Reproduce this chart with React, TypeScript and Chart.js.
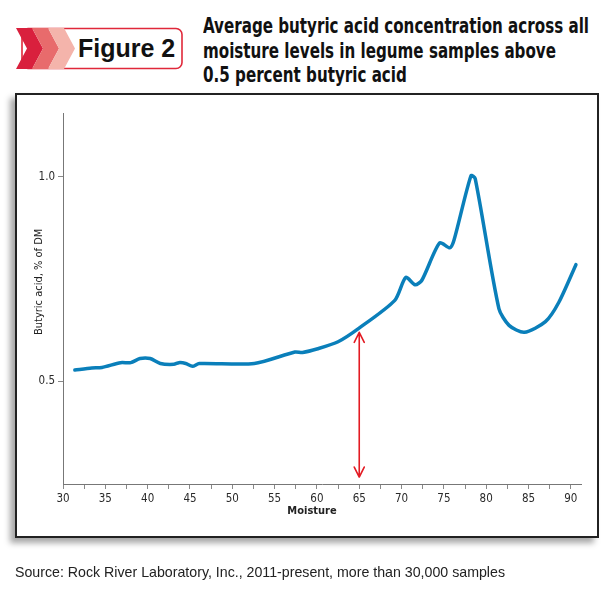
import React, { useEffect, useLayoutEffect, useRef } from "react";
import { Chart, registerables } from "chart.js";

Chart.register(...registerables);

const moisture = [31.4, 33.4, 34.6, 36.8, 38.0, 39.1, 40.3, 41.5, 43.1, 43.7, 44.5, 45.3, 46.1, 52.6, 57.4, 58.3, 60.1, 62.5, 64.9, 69.2, 70.5, 71.6, 72.4, 74.5, 75.7, 76.2, 78.2, 78.7, 81.5, 82.7, 84.5, 87.0, 88.6, 90.6];
const butyric = [0.528, 0.533, 0.534, 0.546, 0.546, 0.556, 0.556, 0.544, 0.542, 0.546, 0.544, 0.537, 0.544, 0.544, 0.572, 0.571, 0.58, 0.597, 0.629, 0.698, 0.754, 0.736, 0.747, 0.838, 0.826, 0.845, 1.002, 0.995, 0.678, 0.637, 0.62, 0.646, 0.694, 0.785];
const xTickLabels = [30, 35, 40, 45, 50, 55, 60, 65, 70, 75, 80, 85, 90];
const yTickLabels = [0.5, 1.0];
const arrowMoisture = [65];
const arrowRange = [0.62, 0.267];
const titleLines = [
  "Average butyric acid concentration across all",
  "moisture levels in legume samples above",
  "0.5 percent butyric acid",
];

const NARROW = "'Liberation Sans Narrow', 'DejaVu Sans Condensed', 'Arial Narrow', sans-serif";

const arrowPlugin = {
  id: "arrowAndTitles",
  afterDatasetsDraw(chart: any) {
    const { ctx, scales, chartArea } = chart;
    const xs = scales.x;
    const ys = scales.y;
    ctx.save();
    arrowMoisture.forEach((m) => {
      const x = xs.getPixelForValue(m);
      const yTop = ys.getPixelForValue(arrowRange[0]);
      const yBot = ys.getPixelForValue(arrowRange[1]);
      ctx.strokeStyle = "#e31b23";
      ctx.lineWidth = 1.6;
      ctx.lineCap = "round";
      ctx.lineJoin = "round";
      ctx.beginPath();
      ctx.moveTo(x, yTop);
      ctx.lineTo(x, yBot);
      ctx.moveTo(x - 5, yTop + 10);
      ctx.lineTo(x, yTop);
      ctx.lineTo(x + 5, yTop + 10);
      ctx.moveTo(x - 5, yBot - 10);
      ctx.lineTo(x, yBot);
      ctx.lineTo(x + 5, yBot - 10);
      ctx.stroke();
    });
    ctx.fillStyle = "#222";
    ctx.font = `bold 11px ${NARROW}`;
    ctx.textAlign = "center";
    ctx.textBaseline = "middle";
    ctx.fillText("Moisture", (chartArea.left + chartArea.right) / 2 - 10, chartArea.bottom + 27);
    ctx.font = `11px ${NARROW}`;
    ctx.translate(chartArea.left - 24, chartArea.top + (chartArea.bottom - chartArea.top) * 0.455);
    ctx.rotate(-Math.PI / 2);
    ctx.fillText("Butyric acid, % of DM", 0, 0);
    ctx.restore();
  },
};

function ChartView() {
  const ref = useRef<HTMLCanvasElement>(null);
  useEffect(() => {
    if (!ref.current) return;
    const pts = moisture.map((m, i) => ({ x: m, y: butyric[i] }));
    const chart = new Chart(ref.current, {
      type: "line",
      data: {
        datasets: [
          {
            data: pts,
            borderColor: "#0a7fba",
            borderWidth: 3.5,
            pointRadius: 0,
            tension: 0.25,
            borderCapStyle: "round",
            borderJoinStyle: "round",
            fill: false,
          },
        ],
      },
      options: {
        animation: false,
        responsive: false,
        maintainAspectRatio: false,
        layout: { padding: { left: 15, right: 29, top: 113, bottom: 60 } },
        plugins: { legend: { display: false }, tooltip: { enabled: false }, title: { display: false } },
        scales: {
          x: {
            type: "linear",
            min: 30,
            max: 91.2,
            afterBuildTicks(scale: any) {
              const t: any[] = [];
              xTickLabels.forEach((v, i) => {
                t.push({ value: v });
                if (i < xTickLabels.length - 1) t.push({ value: (v + xTickLabels[i + 1]) / 2 });
              });
              scale.ticks = t;
            },
            afterFit(scale: any) {
              scale.height = 46;
            },
            ticks: {
              autoSkip: false,
              maxRotation: 0,
              padding: 3,
              color: "#2a2a2a",
              font: { family: NARROW, size: 11.5 },
              callback: (v: any) => (xTickLabels.includes(v) ? String(v) : ""),
            },
            grid: { drawOnChartArea: false, drawTicks: true, tickLength: 5, color: "#888", lineWidth: 1 },
            border: { display: true, color: "#777", width: 1 },
          },
          y: {
            type: "linear",
            min: 0.25,
            max: 1.155,
            afterBuildTicks(scale: any) {
              scale.ticks = yTickLabels.map((v) => ({ value: v }));
            },
            afterFit(scale: any) {
              scale.width = 48;
            },
            ticks: {
              padding: 3,
              color: "#2a2a2a",
              font: { family: NARROW, size: 11.5 },
              callback: (v: any) => Number(v).toFixed(1),
            },
            grid: { drawOnChartArea: false, drawTicks: true, tickLength: 5, color: "#888", lineWidth: 1 },
            border: { display: true, color: "#777", width: 1 },
          },
        },
      },
      plugins: [arrowPlugin],
    } as any);
    return () => chart.destroy();
  }, []);
  return <canvas ref={ref} width={610} height={590} style={{ position: "absolute", left: 0, top: 0, width: 610, height: 590 }} />;
}

function Header() {
  const top = 28;
  const bot = 69;
  const mid = (top + bot) / 2;
  const chev = (x0: number) =>
    `${x0},${top} ${x0 + 16},${top} ${x0 + 27},${mid} ${x0 + 16},${bot} ${x0},${bot} ${x0 + 11},${mid}`;
  return (
    <svg width={200} height={90} style={{ position: "absolute", left: 0, top: 0 }}>
      <rect x={22} y={top + 0.5} width={160} height={bot - top - 1} rx={6} ry={6} fill="#fff" stroke="#e0283a" strokeWidth={1.6} />
      <polygon points={chev(16)} fill="#d9203d" />
      <polygon points={chev(32)} fill="#e86b6c" />
      <polygon points={chev(48)} fill="#f4b4ab" />
    </svg>
  );
}

function Title() {
  const ref = useRef<HTMLDivElement>(null);
  const first = useRef<HTMLSpanElement>(null);
  useLayoutEffect(() => {
    if (!ref.current || !first.current) return;
    const w = first.current.getBoundingClientRect().width;
    if (w > 0) ref.current.style.transform = `scaleX(${386 / w})`;
  }, []);
  return (
    <div
      ref={ref}
      style={{
        position: "absolute",
        left: 203,
        top: 14,
        font: `bold 21px ${NARROW}`,
        lineHeight: "24.5px",
        color: "#111",
        whiteSpace: "nowrap",
        transformOrigin: "0 0",
      }}
    >
      {titleLines.map((l, i) => (
        <div key={i}>
          <span ref={i === 0 ? first : undefined}>{l}</span>
        </div>
      ))}
    </div>
  );
}

export default function App() {
  return (
    <div style={{ position: "absolute", left: 0, top: 0, width: 610, height: 590, background: "#fff", overflow: "hidden" }}>
      <Header />
      <div
        style={{
          position: "absolute",
          left: 78,
          top: 32,
          font: "bold 25px 'Liberation Sans', Arial, sans-serif",
          color: "#111",
          lineHeight: "32px",
        }}
      >
        Figure 2
      </div>
      <Title />
      <div
        style={{
          position: "absolute",
          left: 15,
          top: 93,
          width: 580,
          height: 441,
          border: "2px solid #222",
          boxShadow: "-5px 5px 6px rgba(0,0,0,0.35)",
          background: "#fff",
        }}
      />
      <ChartView />
      <div
        style={{
          position: "absolute",
          left: 15,
          top: 564,
          font: "14.2px 'Liberation Sans', Arial, sans-serif",
          color: "#222",
          whiteSpace: "nowrap",
        }}
      >
        Source: Rock River Laboratory, Inc., 2011-present, more than 30,000 samples
      </div>
    </div>
  );
}
